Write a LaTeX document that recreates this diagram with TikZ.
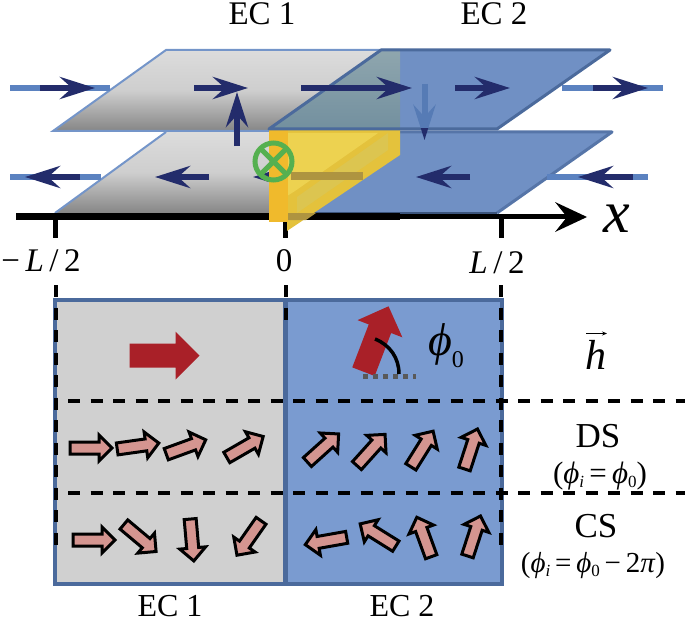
\documentclass[tikz,border=0pt]{standalone}
\usepackage{fontspec}
\setmainfont{Liberation Serif}
\usetikzlibrary{arrows.meta}
\definecolor{navyc}{HTML}{232C6B}
\definecolor{leadc}{HTML}{5B82C0}
\definecolor{edgec}{HTML}{4B6A9C}
\definecolor{planeblue}{HTML}{7090C4}
\definecolor{panelblue}{HTML}{7A9BD0}
\definecolor{panelgray}{HTML}{D0D0D0}
\definecolor{spinc}{HTML}{D49590}
\definecolor{redc}{HTML}{A92028}
\definecolor{orangec}{HTML}{F0BA2C}
\definecolor{greenc}{HTML}{55B050}
\definecolor{yellowa}{HTML}{E4C23C}
\definecolor{yellowb}{HTML}{EDD250}
\definecolor{yellowc}{HTML}{DCC550}
\definecolor{olivec}{HTML}{AE9440}
\definecolor{lighttop}{HTML}{DCDCDC}
\definecolor{lightmid}{HTML}{CECECE}
\definecolor{darkbot}{HTML}{868686}
\definecolor{overtop}{HTML}{8FA6AE}
\definecolor{overbot}{HTML}{73909F}
\tikzset{
  navyarrow/.style={line width=6pt,draw=navyc,-{Stealth[length=35pt,width=22pt,inset=12pt,sep=0pt]}},
  leadline/.style={line width=5.5pt,draw=leadc},
  grayplane/.style={top color=lighttop,bottom color=darkbot,middle color=lightmid},
  txt/.style={anchor=base,inner sep=0pt,outer sep=0pt},
  dashline/.style={line width=4pt,draw=black,dash pattern=on 12pt off 10.5pt},
  tick/.style={line width=5pt,draw=black},
}
\newcommand{\spinarr}[3]{\draw[line width=3pt,draw=black,fill=spinc,miter limit=6,shift={(#1,#2)},rotate=#3]
  (-21,-6)--(8,-6)--(8,-13)--(21,0)--(8,13)--(8,6)--(-21,6)--cycle;}
\newcommand{\redarr}[3]{\fill[redc,shift={(#1,#2)},rotate=#3]
  (-35,-12)--(11,-12)--(11,-24)--(35,0)--(11,24)--(11,12)--(-35,12)--cycle;}
\newcommand{\fs}[1]{\fontsize{#1}{#1}\selectfont}
\begin{document}
\begin{tikzpicture}[x=1pt,y=-1pt]
\useasboundingbox (0,0) rectangle (685,623);
% gray planes
\path[grayplane] (55,213)--(166,132)--(400,132)--(400,213)--cycle;
\draw[line width=2pt,draw=leadc!85!white] (55,213)--(166,132);
\path[grayplane] (53,131)--(166,50)--(400,50)--(400,131)--cycle;
\draw[line width=2pt,draw=leadc!85!white] (400,50)--(166,50)--(53,131)--(270,131);
% lower blue plane
\fill[planeblue] (269,213)--(381,132)--(612,132)--(497,213)--cycle;
\draw[line width=3pt,draw=edgec!70!planeblue,line join=round] (381,132)--(612,132)--(497,213);
\draw[line width=2pt,draw=edgec!80!black] (269,213)--(497,213);
% axis
\draw[line width=7pt] (16,216.5)--(400,216.5);
\draw[line width=5.5pt] (400,216.5)--(570,216.5);
\fill (587,217)--(555,202)--(567,217)--(555,232)--cycle;
\draw[tick] (55.5,219)--(55.5,238);
\draw[tick] (285.7,222)--(285.7,238);
\draw[tick] (501,219)--(501,238);
% arrow hidden behind the junction
\draw[navyarrow] (363,177)--(253,177);
% yellow block
\fill[yellowa] (287,130)--(400,130)--(400,155)--(287,231)--cycle;
\fill[yellowb] (287,133)--(378,133)--(295,191)--(287,196)--cycle;
\fill[yellowc] (388,133)--(297,197)--(297,213)--(388,150)--cycle;
\fill[olivec] (291,172)--(363,172)--(363,180)--(291,180)--cycle;
\fill[olivec] (287,213)--(316,213)--(306,220)--(287,220)--cycle;
\fill[orangec] (269,129) rectangle (288,222);
% upper blue plane
\fill[planeblue] (269,128)--(381,50)--(610,50)--(497,128)--cycle;
\shade[top color=overtop,bottom color=overbot] (269,128)--(381,50)--(400,50)--(400,128)--cycle;
\draw[line width=3pt,draw=edgec,line join=round] (269,129)--(381,50)--(610,50)--(497,129)--cycle;
% down arrow on the planes
\draw[line width=6pt,draw=leadc!70!edgec,-{Stealth[length=35pt,width=22pt,inset=12pt,sep=0pt]}] (424.5,84)--(424.5,140);
\begin{scope}
\clip (410,129) rectangle (440,141);
\draw[navyarrow] (424.5,84)--(424.5,140);
\end{scope}
% leads and navy arrows, top row
\draw[leadline] (10,88)--(110,88);
\draw[navyarrow] (40,88)--(95,88);
\draw[navyarrow] (194,88)--(248,88);
\draw[navyarrow] (301,88)--(412,88);
\draw[navyarrow] (455,88)--(510,88);
\draw[leadline] (562,88)--(663,88);
\draw[navyarrow] (593,88)--(648,88);
% bottom row
\draw[leadline] (10,177)--(101,177);
\draw[navyarrow] (80,177)--(25,177);
\draw[navyarrow] (209,177)--(155,177);
\draw[navyarrow] (470,177)--(416,177);
\draw[leadline] (547,177)--(648,177);
\draw[navyarrow] (633,177)--(578,177);
% up arrow
\draw[navyarrow] (237,146)--(237,92);
% into-page marker
\draw[line width=5pt,draw=greenc] (273.5,161.5) circle (18.5);
\draw[line width=5pt,draw=greenc] (260.5,148.5)--(286.5,174.5) (286.5,148.5)--(260.5,174.5);
% lower panel
\fill[panelgray] (55,300) rectangle (285.5,584);
\fill[panelblue] (285.5,300) rectangle (502,584);
\draw[line width=4.5pt,draw=edgec] (55,300) rectangle (502,584);
\draw[line width=4.5pt,draw=edgec] (285.5,300)--(285.5,584);
% dashed guides
\draw[dashline] (55.5,285)--(55.5,545);
\draw[dashline] (285.7,285)--(285.7,320);
\draw[dashline] (501,285)--(501,545);
\draw[dashline] (68,400.7)--(685,400.7);
\draw[dashline] (68,492.7)--(685,492.7);
% field arrows
\redarr{164.5}{355.5}{0}
\redarr{376}{339}{69}
\draw[line width=5pt,draw=black!65,dash pattern=on 5pt off 5pt] (363,376.5)--(416,376.5);
\draw[line width=3.5pt] (375,339) .. controls (390,345) and (399,358) .. (399,374);
% spins DS
\spinarr{91}{448}{0}
\spinarr{138}{446}{8}
\spinarr{186}{447}{20}
\spinarr{245}{447}{30}
\spinarr{323}{448}{42}
\spinarr{371}{450}{48}
\spinarr{422}{449}{58}
\spinarr{471}{449}{72}
% spins CS
\spinarr{94}{540}{0}
\spinarr{140}{538}{-40}
\spinarr{192}{540}{-85}
\spinarr{249}{538}{-125}
\spinarr{326}{541}{190}
\spinarr{378}{535}{148}
\spinarr{424}{537}{110}
\spinarr{474}{536}{72}
% labels
\node[txt] (ec1top) at (262,24.5) {\fs{33}EC 1};
\node[txt] (ec2top) at (494,24.5) {\fs{33}EC 2};
\node[txt] (ec1bot) at (170,616) {\fs{32}EC 1};
\node[txt] (ec2bot) at (402,616) {\fs{32}EC 2};
\node[txt] (xlab) at (616.5,232) {\fs{60}\itshape x};
\node[txt] (tickl) at (41,271) {\fs{33}−\,\textit{L}\,/\,2};
\node[txt] (tick0) at (284,271) {\fs{33}0};
\node[txt] (tickr) at (497,273) {\fs{33}\textit{L}\,/\,2};
\node[txt] (hlab) at (596,369) {\fs{42}\itshape h};
\draw[line width=1.5pt,-{Stealth[length=5pt,width=4pt]}] (586,333.5)--(607,333.5);
\node[txt] (phi) at (446,355) {\fs{46}\itshape ϕ\raisebox{-12pt}{\upshape\fs{24}0}};
\node[txt] (ds) at (598,447) {\fs{35}DS};
\node[txt] (dseq) at (600,483) {\fs{31}(\textit{ϕ}\raisebox{-4pt}{\fs{17}\itshape i}\,=\,\textit{ϕ}\raisebox{-4pt}{\fs{17}0})};
\node[txt] (cs) at (596,537) {\fs{35}CS};
\node[txt] (cseq) at (593,572) {\fs{29}(\textit{ϕ}\raisebox{-4pt}{\fs{17}\itshape i}\,=\,\textit{ϕ}\raisebox{-4pt}{\fs{17}0}\,−\,2\textit{π})};
\end{tikzpicture}
\end{document}
